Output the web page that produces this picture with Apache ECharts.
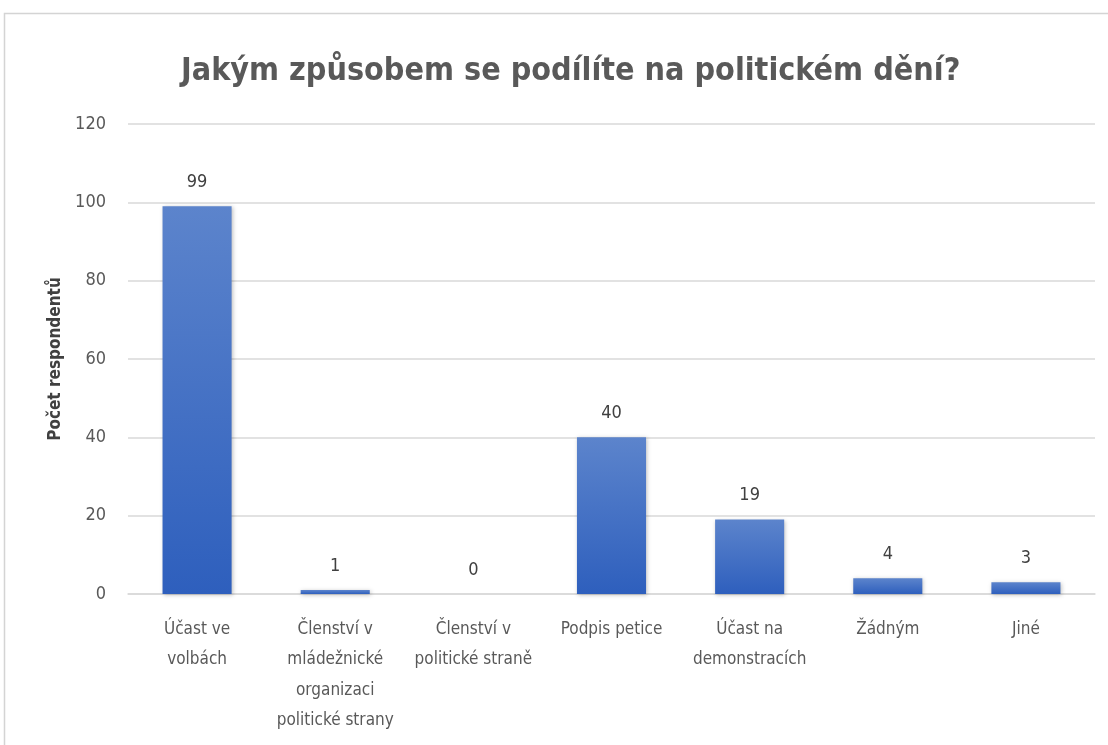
<!DOCTYPE html>
<html><head><meta charset="utf-8">
<script src="https://cdn.jsdelivr.net/npm/echarts@6/dist/echarts.min.js"></script>
<style>html,body{margin:0;padding:0;background:#fff}#c{width:1108px;height:745px}</style>
</head><body><div id="c"></div>
<script>
const categories = ["Účast ve\nvolbách", "Členství v\nmládežnické\norganizaci\npolitické strany", "Členství v\npolitické straně", "Podpis petice", "Účast na\ndemonstracích", "Žádným", "Jiné"];
const values = [99, 1, 0, 40, 19, 4, 3];
const yTicks = [0, 20, 40, 60, 80, 100, 120];
const FONT = '"DejaVu Sans Condensed", "Noto Sans", sans-serif';
const chart = echarts.init(document.getElementById('c'));
chart.setOption({
  animation: false,
  textStyle: {fontFamily: FONT},
  graphic: [{type: 'rect', shape: {x: 4.5, y: 13.5, width: 1200, height: 800}, style: {fill: 'none', stroke: '#d4d4d4', lineWidth: 1.5}, z: -10}],
  title: {text: 'Jakým způsobem se podílíte na politickém dění?', left: 176, top: 51,
    textStyle: {fontFamily: FONT, fontSize: 32, fontWeight: 'bold', color: '#595959'}},
  grid: {left: 128, right: 13, top: 124, bottom: 151},
  xAxis: {type: 'category', data: categories,
    axisLine: {lineStyle: {color: '#d9d9d9', width: 1.5}}, axisTick: {show: false},
    axisLabel: {color: '#595959', fontSize: 17, lineHeight: 30.5, margin: 20, interval: 0, fontFamily: FONT}},
  yAxis: {type: 'value', min: yTicks[0], max: yTicks[yTicks.length - 1], interval: 20,
    name: 'Počet respondentů', nameLocation: 'middle', nameGap: 62, nameRotate: 90,
    nameTextStyle: {color: '#404040', fontSize: 17, fontWeight: 'bold', fontFamily: FONT},
    axisLine: {show: false}, axisTick: {show: false},
    axisLabel: {color: '#595959', fontSize: 18, margin: 22, fontFamily: FONT},
    splitLine: {lineStyle: {color: '#d9d9d9', width: 1.5}}},
  series: [{type: 'bar', data: values, barWidth: '50%',
    itemStyle: {color: new echarts.graphic.LinearGradient(0, 0, 0, 1, [{offset: 0, color: '#5c84cc'}, {offset: 1, color: '#2e5fbd'}]),
      shadowColor: 'rgba(0,0,0,0.25)', shadowBlur: 4, shadowOffsetX: 1, shadowOffsetY: 1},
    label: {show: true, position: 'top', distance: 15, color: '#404040', fontSize: 18, fontFamily: FONT}}]
});
</script></body></html>
